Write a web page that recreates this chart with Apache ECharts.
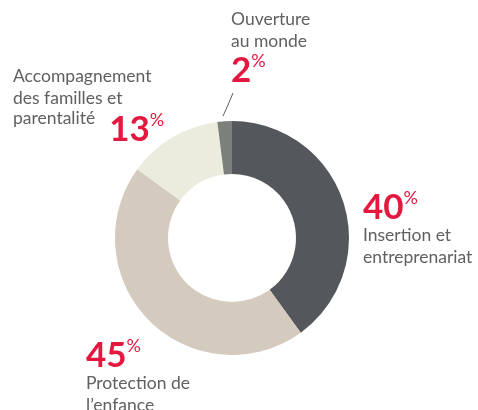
<!DOCTYPE html>
<html>
<head>
<meta charset="utf-8">
<script src="https://cdn.jsdelivr.net/npm/echarts@6/dist/echarts.min.js"></script>
<style>
  html, body { margin: 0; padding: 0; background: #fff; }
  #main { width: 478px; height: 410px; }
</style>
</head>
<body>
<div id="main"></div>
<script>
  var names = ['Insertion et\nentreprenariat', 'Protection de\nl\u2019enfance', 'Accompagnement\ndes familles et\nparentalité', 'Ouverture\nau monde'];
  var values = [40, 45, 13, 2];
  var colors = ['#54575b', '#d4cabd', '#ebebde', '#7b807a'];

  // where each label block sits (top-left)
  var labelPos = [[363, 189], [86, 337], [13, 66], [231, 9]];

  var chart = echarts.init(document.getElementById('main'));

  function labelText(i) {
    var lines = names[i].split('\n').map(function (l) { return '{n|' + l + '}'; });
    var pct = '{p|' + values[i] + '}{s|%}';
    if (i === 2) {
      lines[2] = '{nb|' + names[i].split('\n')[2] + '}{g|}{pl|' + values[i] + '}{sl|%}';
      return lines.join('\n');
    }
    if (i === 3) return lines.join('\n') + '\n' + pct;
    return pct + '\n' + lines.join('\n');
  }

  chart.setOption({
    animation: false,
    series: [{
      type: 'pie',
      center: [232, 238],
      radius: [64, 117],
      startAngle: 90,
      clockwise: true,
      silent: true,
      data: values.map(function (v, i) {
        return {
          value: v,
          name: names[i],
          itemStyle: { color: colors[i] },
          labelLine: { show: i === 3 }
        };
      }),
      label: {
        show: true,
        position: 'outside',
        overflow: 'none',
        formatter: function (p) { return labelText(p.dataIndex); },
        align: 'left',
        rich: {
          n: { fontFamily: 'Lato', fontSize: 17.5, color: '#5f6062', lineHeight: 21.5 },
          nb: { fontFamily: 'Lato', fontSize: 17.5, color: '#5f6062', lineHeight: 21, verticalAlign: 'top' },
          p: { fontFamily: 'Lato', fontSize: 35, fontWeight: 'bold', color: '#e4173e', lineHeight: 36, verticalAlign: 'bottom' },
          pl: { fontFamily: 'Lato', fontSize: 35, fontWeight: 'bold', color: '#e4173e', lineHeight: 38, verticalAlign: 'bottom' },
          s: { fontFamily: 'Lato', fontSize: 18, color: '#e4173e', verticalAlign: 'top', lineHeight: 36 },
          sl: { fontFamily: 'Lato', fontSize: 18, color: '#e4173e', verticalAlign: 'top', lineHeight: 36, padding: [2, 0, 0, 0] },
          g: { width: 14 }
        }
      },
      labelLine: {
        lineStyle: { color: '#5f6062', width: 1 },
        length: 8,
        length2: 0
      },
      labelLayout: function (params) {
        var pos = labelPos[params.dataIndex];
        var out = { x: pos[0], y: pos[1], align: 'left', verticalAlign: 'top' };
        if (params.dataIndex === 3) {
          out.labelLinePoints = [[223, 116], [228, 105], [233, 93]];
        }
        return out;
      }
    }]
  });
</script>
</body>
</html>
